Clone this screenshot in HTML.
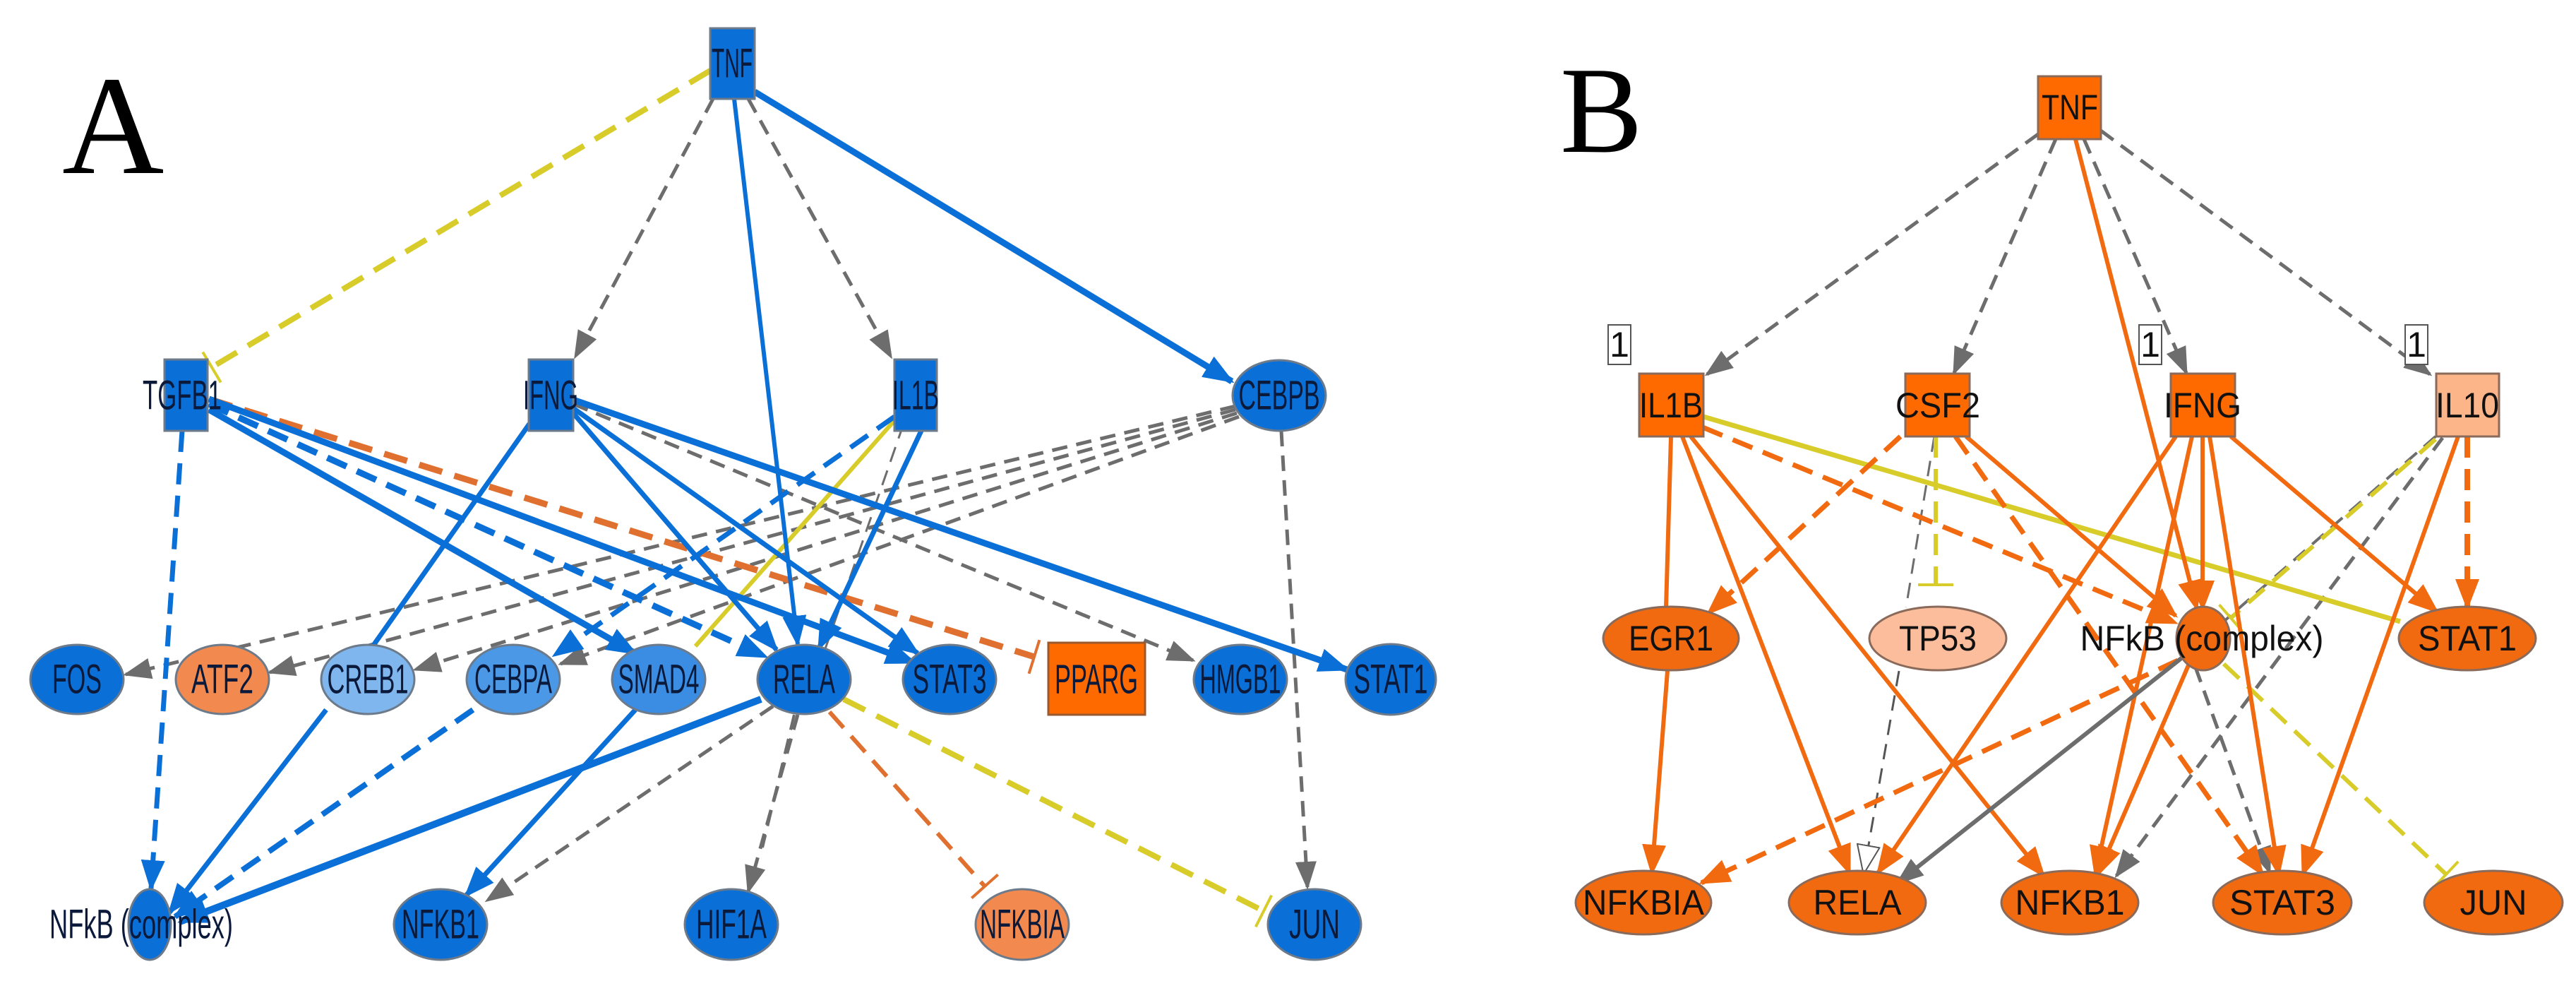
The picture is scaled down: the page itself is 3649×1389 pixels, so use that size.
<!DOCTYPE html>
<html><head><meta charset="utf-8"><style>
html,body{margin:0;padding:0;background:#fff;}
svg{display:block}
.a text{font-family:"Liberation Sans",sans-serif;font-size:58px;fill:#0b1a3a;text-anchor:middle;dominant-baseline:central;}
.b text{font-family:"Liberation Sans",sans-serif;font-size:50px;fill:#111;text-anchor:middle;dominant-baseline:central;}
</style></head><body>
<svg width="3649" height="1389" viewBox="0 0 3649 1389" xmlns="http://www.w3.org/2000/svg">
<defs>
<marker id="ab" markerUnits="userSpaceOnUse" markerWidth="44" markerHeight="34" refX="40" refY="17" orient="auto"><path d="M0,0 L44,17 L0,34 Z" fill="#0a6fd6"/></marker>
<marker id="ag" markerUnits="userSpaceOnUse" markerWidth="40" markerHeight="30" refX="36" refY="15" orient="auto"><path d="M0,0 L40,15 L0,30 Z" fill="#6d6d6d"/></marker>
<marker id="ao" markerUnits="userSpaceOnUse" markerWidth="44" markerHeight="34" refX="40" refY="17" orient="auto"><path d="M0,0 L44,17 L0,34 Z" fill="#f26a10"/></marker>
<marker id="aw" markerUnits="userSpaceOnUse" markerWidth="44" markerHeight="34" refX="40" refY="17" orient="auto"><path d="M1,1 L42,17 L1,33 Z" fill="#fff" stroke="#555" stroke-width="2"/></marker>
<marker id="iy" markerUnits="userSpaceOnUse" markerWidth="6" markerHeight="50" refX="3" refY="25" orient="auto"><path d="M3,0 L3,50" stroke="#d8cc2a" stroke-width="4"/></marker>
<marker id="io" markerUnits="userSpaceOnUse" markerWidth="6" markerHeight="50" refX="3" refY="25" orient="auto"><path d="M3,0 L3,50" stroke="#e07030" stroke-width="4"/></marker>
</defs>

<!-- ===== Panel A ===== -->
<text x="88" y="245" font-family="Liberation Serif,serif" font-size="200" fill="#000">A</text>
<g fill="none" stroke-linecap="butt">
<g stroke="#6d6d6d" stroke-width="5" stroke-dasharray="22 13" marker-end="url(#ag)">
<line x1="1010" y1="140" x2="815" y2="505"/>
<line x1="1060" y1="140" x2="1262" y2="505"/>
<line x1="1750" y1="575" x2="178" y2="955"/>
<line x1="1750" y1="580" x2="382" y2="952"/>
<line x1="1752" y1="585" x2="588" y2="948"/>
<line x1="1755" y1="590" x2="794" y2="940"/>
<line x1="812" y1="572" x2="1690" y2="935"/>
<line x1="1815" y1="610" x2="1852" y2="1256"/>
<line x1="1095" y1="1000" x2="690" y2="1275"/>
<line x1="1130" y1="1012" x2="1060" y2="1262"/>
</g>
<line x1="1125" y1="1012" x2="1080" y2="1200" stroke="#6d6d6d" stroke-width="4" stroke-dasharray="22 13"/>
<line x1="1280" y1="600" x2="1165" y2="930" stroke="#6d6d6d" stroke-width="3" stroke-dasharray="22 13"/>
<line x1="1006" y1="100" x2="300" y2="520" stroke="#d8cc2a" stroke-width="8" stroke-dasharray="34 18" marker-end="url(#iy)"/>
<line x1="1270" y1="592" x2="985" y2="915" stroke="#d8cc2a" stroke-width="6"/>
<line x1="1195" y1="990" x2="1790" y2="1290" stroke="#d8cc2a" stroke-width="8" stroke-dasharray="34 18" marker-end="url(#iy)"/>
<line x1="296" y1="565" x2="1465" y2="930" stroke="#e07030" stroke-width="9" stroke-dasharray="34 18" marker-end="url(#io)"/>
<line x1="1175" y1="1008" x2="1395" y2="1255" stroke="#e07030" stroke-width="6" stroke-dasharray="30 16" marker-end="url(#io)"/>
<g stroke="#0a6fd6" marker-end="url(#ab)">
<line x1="1069" y1="130" x2="1745" y2="540" stroke-width="9"/>
<line x1="1040" y1="140" x2="1130" y2="912" stroke-width="6"/>
<line x1="296" y1="580" x2="900" y2="925" stroke-width="9"/>
<line x1="296" y1="572" x2="1085" y2="930" stroke-width="9" stroke-dasharray="30 16"/>
<line x1="296" y1="565" x2="1295" y2="938" stroke-width="9"/>
<line x1="258" y1="610" x2="214" y2="1258" stroke-width="7" stroke-dasharray="30 16"/>
<line x1="812" y1="585" x2="1100" y2="920" stroke-width="7"/>
<line x1="812" y1="578" x2="1300" y2="925" stroke-width="7"/>
<line x1="812" y1="566" x2="1908" y2="948" stroke-width="9"/>
<line x1="1267" y1="590" x2="785" y2="928" stroke-width="7" stroke-dasharray="30 16"/>
<line x1="1305" y1="610" x2="1160" y2="918" stroke-width="7"/>
<line x1="462" y1="1005" x2="240" y2="1292" stroke-width="7"/>
<line x1="670" y1="1005" x2="248" y2="1298" stroke-width="8" stroke-dasharray="30 16"/>
<line x1="1078" y1="990" x2="255" y2="1305" stroke-width="10"/>
<line x1="900" y1="1005" x2="660" y2="1268" stroke-width="7"/>
</g>
<line x1="750" y1="600" x2="528" y2="915" stroke="#0a6fd6" stroke-width="7"/>
</g>
<g stroke="#6c7a8a" stroke-width="3">
<rect x="1006" y="40" width="63" height="100" fill="#0a6fd6"/>
<rect x="233" y="509" width="61" height="101" fill="#0a6fd6"/>
<rect x="749" y="509" width="63" height="101" fill="#0a6fd6"/>
<rect x="1267" y="509" width="60" height="101" fill="#0a6fd6"/>
<ellipse cx="1812" cy="560" rx="66" ry="50" fill="#0a6fd6"/>
<ellipse cx="109" cy="962" rx="66" ry="49" fill="#0a6fd6"/>
<ellipse cx="315" cy="962" rx="66" ry="49" fill="#f28a50"/>
<ellipse cx="521" cy="962" rx="66" ry="49" fill="#7fb6ee"/>
<ellipse cx="727" cy="962" rx="66" ry="49" fill="#4a98e6"/>
<ellipse cx="933" cy="962" rx="66" ry="49" fill="#3a8de2"/>
<ellipse cx="1139" cy="962" rx="66" ry="49" fill="#0a6fd6"/>
<ellipse cx="1345" cy="962" rx="66" ry="49" fill="#0a6fd6"/>
<rect x="1485" y="910" width="137" height="102" fill="#ff6a00" stroke="#9a5a30"/>
<ellipse cx="1757" cy="962" rx="66" ry="49" fill="#0a6fd6"/>
<ellipse cx="1970" cy="962" rx="64" ry="50" fill="#0a6fd6"/>
<ellipse cx="212" cy="1309" rx="30" ry="50" fill="#0a6fd6"/>
<ellipse cx="624" cy="1309" rx="66" ry="50" fill="#0a6fd6"/>
<ellipse cx="1036" cy="1309" rx="66" ry="50" fill="#0a6fd6"/>
<ellipse cx="1448" cy="1309" rx="66" ry="50" fill="#f28a50"/>
<ellipse cx="1862" cy="1309" rx="66" ry="50" fill="#0a6fd6"/>
</g>
<g class="a">
<text x="1037" y="90" textLength="58" lengthAdjust="spacingAndGlyphs">TNF</text>
<text x="258" y="560" textLength="112" lengthAdjust="spacingAndGlyphs">TGFB1</text>
<text x="780" y="560" textLength="78" lengthAdjust="spacingAndGlyphs">IFNG</text>
<text x="1297" y="560" textLength="66" lengthAdjust="spacingAndGlyphs">IL1B</text>
<text x="1812" y="560" textLength="115" lengthAdjust="spacingAndGlyphs">CEBPB</text>
<text x="109" y="962" textLength="70" lengthAdjust="spacingAndGlyphs">FOS</text>
<text x="315" y="962" textLength="88" lengthAdjust="spacingAndGlyphs">ATF2</text>
<text x="521" y="962" textLength="115" lengthAdjust="spacingAndGlyphs">CREB1</text>
<text x="727" y="962" textLength="110" lengthAdjust="spacingAndGlyphs">CEBPA</text>
<text x="933" y="962" textLength="115" lengthAdjust="spacingAndGlyphs">SMAD4</text>
<text x="1139" y="962" textLength="88" lengthAdjust="spacingAndGlyphs">RELA</text>
<text x="1345" y="962" textLength="105" lengthAdjust="spacingAndGlyphs">STAT3</text>
<text x="1553" y="962" textLength="118" lengthAdjust="spacingAndGlyphs">PPARG</text>
<text x="1757" y="962" textLength="115" lengthAdjust="spacingAndGlyphs">HMGB1</text>
<text x="1970" y="962" textLength="105" lengthAdjust="spacingAndGlyphs">STAT1</text>
<text x="200" y="1309" textLength="260" lengthAdjust="spacingAndGlyphs">NFkB (complex)</text>
<text x="624" y="1309" textLength="110" lengthAdjust="spacingAndGlyphs">NFKB1</text>
<text x="1036" y="1309" textLength="100" lengthAdjust="spacingAndGlyphs">HIF1A</text>
<text x="1448" y="1309" textLength="120" lengthAdjust="spacingAndGlyphs">NFKBIA</text>
<text x="1862" y="1309" textLength="72" lengthAdjust="spacingAndGlyphs">JUN</text>
</g>

<!-- ===== Panel B ===== -->
<text x="2210" y="215" font-family="Liberation Serif,serif" font-size="175" fill="#000">B</text>
<g fill="none">
<g stroke="#6d6d6d" stroke-width="5" stroke-dasharray="22 13" marker-end="url(#ag)">
<line x1="2887" y1="190" x2="2418" y2="530"/>
<line x1="2912" y1="197" x2="2768" y2="528"/>
<line x1="2952" y1="197" x2="3097" y2="528"/>
<line x1="2976" y1="185" x2="3442" y2="530"/>
<line x1="3110" y1="945" x2="3215" y2="1235"/>
<line x1="3460" y1="620" x2="2998" y2="1240"/>
</g>
<line x1="2690" y1="950" x2="2640" y2="1236" stroke="#555" stroke-width="3" stroke-dasharray="22 13" marker-end="url(#aw)"/>
<line x1="2740" y1="618" x2="2700" y2="860" stroke="#6d6d6d" stroke-width="3" stroke-dasharray="22 13"/>
<line x1="3450" y1="618" x2="3150" y2="880" stroke="#6d6d6d" stroke-width="4" stroke-dasharray="22 13"/>
<line x1="2413" y1="590" x2="3400" y2="880" stroke="#d8cc2a" stroke-width="7"/>
<line x1="2742" y1="618" x2="2742" y2="828" stroke="#d8cc2a" stroke-width="6" stroke-dasharray="30 16" marker-end="url(#iy)"/>
<line x1="3450" y1="622" x2="3160" y2="875" stroke="#d8cc2a" stroke-width="6" stroke-dasharray="30 16" marker-end="url(#iy)"/>
<line x1="3150" y1="940" x2="3465" y2="1238" stroke="#d8cc2a" stroke-width="6" stroke-dasharray="30 16" marker-end="url(#iy)"/>
<g stroke="#f26a10" stroke-width="6" marker-end="url(#ao)">
<line x1="2940" y1="197" x2="3112" y2="862"/>
<line x1="2383" y1="618" x2="2620" y2="1236"/>
<line x1="2395" y1="618" x2="2895" y2="1240"/>
<line x1="2412" y1="605" x2="3082" y2="882" stroke-dasharray="30 16" stroke-width="7"/>
<line x1="2692" y1="618" x2="2420" y2="868" stroke-dasharray="30 16" stroke-width="7"/>
<line x1="2785" y1="618" x2="3082" y2="872"/>
<line x1="2770" y1="618" x2="3205" y2="1238" stroke-dasharray="30 16" stroke-width="7"/>
<line x1="3082" y1="618" x2="2660" y2="1236"/>
<line x1="3105" y1="618" x2="2968" y2="1238"/>
<line x1="3120" y1="618" x2="3120" y2="862"/>
<line x1="3130" y1="618" x2="3228" y2="1238"/>
<line x1="3160" y1="618" x2="3452" y2="866"/>
<line x1="3482" y1="618" x2="3262" y2="1238"/>
<line x1="3495" y1="618" x2="3495" y2="860" stroke-dasharray="30 16" stroke-width="8"/>
<line x1="3085" y1="935" x2="2410" y2="1250" stroke-dasharray="30 16" stroke-width="7"/>
<line x1="3100" y1="942" x2="2972" y2="1238"/>
<line x1="2362" y1="950" x2="2340" y2="1236"/>
</g>
<line x1="2367" y1="618" x2="2360" y2="860" stroke="#f26a10" stroke-width="6"/>
<line x1="3090" y1="932" x2="2688" y2="1250" stroke="#6d6d6d" stroke-width="6" marker-end="url(#ag)"/>
</g>
<g stroke="#8a6a5a" stroke-width="3">
<rect x="2887" y="108" width="89" height="89" fill="#ff6a00"/>
<rect x="2322" y="529" width="91" height="89" fill="#ff6a00"/>
<rect x="2699" y="529" width="91" height="89" fill="#ff6a00"/>
<rect x="3075" y="529" width="91" height="89" fill="#ff6a00"/>
<rect x="3451" y="529" width="89" height="89" fill="#fcb489"/>
<ellipse cx="2367" cy="904" rx="96" ry="45" fill="#f26a10"/>
<ellipse cx="2745" cy="904" rx="97" ry="45" fill="#fbbd9c"/>
<ellipse cx="3121" cy="904" rx="38" ry="45" fill="#f26a10"/>
<ellipse cx="3495" cy="904" rx="97" ry="45" fill="#f26a10"/>
<ellipse cx="2328" cy="1278" rx="96" ry="45" fill="#f26a10"/>
<ellipse cx="2631" cy="1278" rx="97" ry="45" fill="#f26a10"/>
<ellipse cx="2932" cy="1278" rx="97" ry="45" fill="#f26a10"/>
<ellipse cx="3233" cy="1278" rx="98" ry="45" fill="#f26a10"/>
<ellipse cx="3532" cy="1278" rx="98" ry="45" fill="#f26a10"/>
</g>
<g stroke="#555" stroke-width="2" fill="#fff">
<rect x="2278" y="460" width="32" height="56"/>
<rect x="3030" y="460" width="32" height="56"/>
<rect x="3407" y="460" width="32" height="56"/>
</g>
<g class="b">
<text x="2294" y="488" font-size="36">1</text>
<text x="3046" y="488" font-size="36">1</text>
<text x="3423" y="488" font-size="36">1</text>
<text x="2932" y="152" textLength="80" lengthAdjust="spacingAndGlyphs">TNF</text>
<text x="2367" y="574" textLength="90" lengthAdjust="spacingAndGlyphs">IL1B</text>
<text x="2745" y="574" textLength="120" lengthAdjust="spacingAndGlyphs">CSF2</text>
<text x="3120" y="574" textLength="110" lengthAdjust="spacingAndGlyphs">IFNG</text>
<text x="3495" y="574" textLength="90" lengthAdjust="spacingAndGlyphs">IL10</text>
<text x="2367" y="904" textLength="120" lengthAdjust="spacingAndGlyphs">EGR1</text>
<text x="2745" y="904" textLength="110" lengthAdjust="spacingAndGlyphs">TP53</text>
<text x="3119" y="904" textLength="345" lengthAdjust="spacingAndGlyphs">NFkB (complex)</text>
<text x="3495" y="904" textLength="140" lengthAdjust="spacingAndGlyphs">STAT1</text>
<text x="2328" y="1278" textLength="172" lengthAdjust="spacingAndGlyphs">NFKBIA</text>
<text x="2631" y="1278" textLength="125" lengthAdjust="spacingAndGlyphs">RELA</text>
<text x="2932" y="1278" textLength="155" lengthAdjust="spacingAndGlyphs">NFKB1</text>
<text x="3233" y="1278" textLength="150" lengthAdjust="spacingAndGlyphs">STAT3</text>
<text x="3532" y="1278" textLength="95" lengthAdjust="spacingAndGlyphs">JUN</text>
</g>
</svg>
</body></html>
